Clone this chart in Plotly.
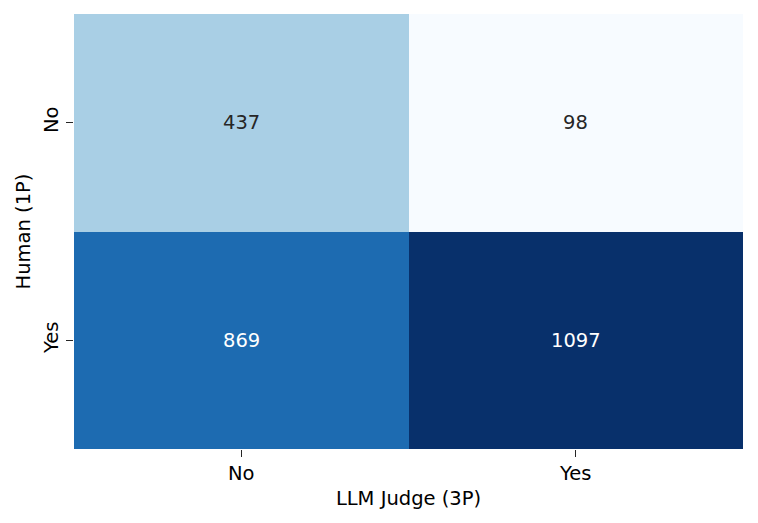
import plotly.graph_objects as go
import plotly.colors as pc

# confusion matrix: rows = Human (1P), cols = LLM Judge (3P)
x_labels = ["No", "Yes"]
y_labels = ["No", "Yes"]
counts = [
    [437, 98],
    [869, 1097],
]

FONT = "DejaVu Sans"
FS = 19.5

vmin = min(min(r) for r in counts)
vmax = max(max(r) for r in counts)

fig = go.Figure(go.Heatmap(
    z=counts,
    x=x_labels,
    y=y_labels,
    colorscale=pc.sequential.Blues,
    zmin=vmin, zmax=vmax,
    showscale=False,
    xgap=0, ygap=0,
))

# cell labels, white on dark cells like seaborn does
for i, row in enumerate(counts):
    for j, v in enumerate(row):
        frac = (v - vmin) / (vmax - vmin)
        fig.add_annotation(
            x=x_labels[j], y=y_labels[i], text=str(v), showarrow=False,
            font=dict(family=FONT, size=FS,
                      color="white" if frac > 0.55 else "#262626"),
        )

# page body has an 8px margin, so the figure is a bit smaller than the window
fig.update_layout(
    width=750, height=515,
    margin=dict(l=66, r=15, t=6, b=74),
    plot_bgcolor="white", paper_bgcolor="white",
    font=dict(family=FONT, size=FS, color="black"),
    xaxis=dict(
        title=dict(text="LLM Judge (3P)", standoff=6, font=dict(size=FS)),
        ticks="outside", ticklen=7, tickcolor="#262626",
        tickfont=dict(size=FS),
        showgrid=False, zeroline=False, showline=False,
    ),
    yaxis=dict(
        title=dict(text="Human (1P)", standoff=4, font=dict(size=FS)),
        autorange="reversed", tickangle=-90,
        ticks="outside", ticklen=7, tickcolor="#262626",
        tickfont=dict(size=FS),
        showgrid=False, zeroline=False, showline=False,
    ),
)

fig.write_html("out.html")
